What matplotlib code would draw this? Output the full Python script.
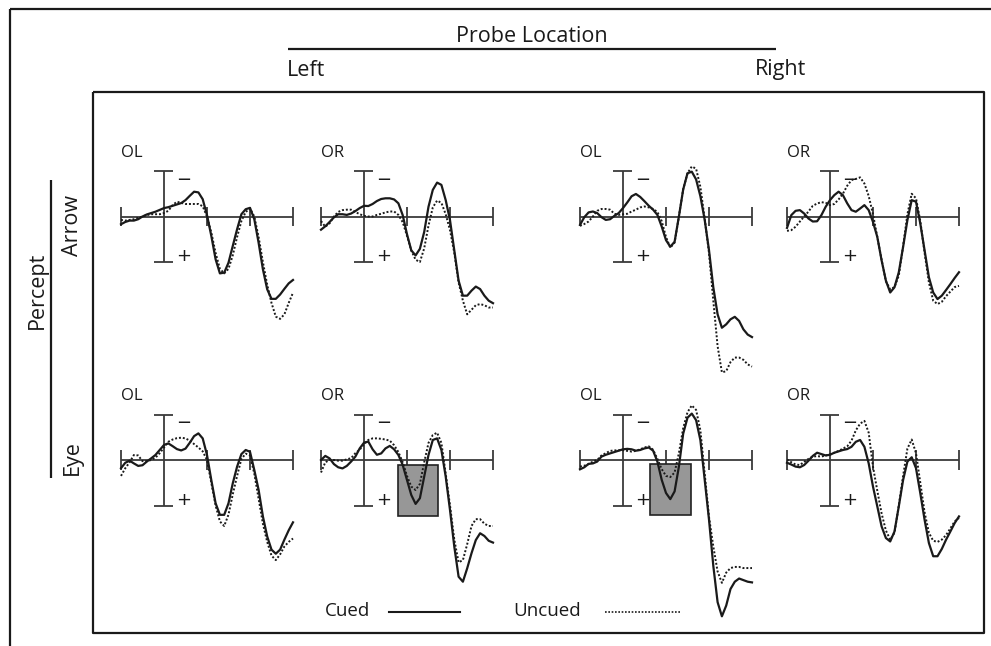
import numpy as np
import matplotlib
matplotlib.use("Agg")
from matplotlib import pyplot as plt
from matplotlib.patches import Rectangle

plt.rcParams['font.family'] = ['Open Sans', 'DejaVu Sans']

# time axis of every waveform, ms after probe onset (curves read every 10 ms)
TIME = np.arange(-100, 301, 10)
TICKS = [-100, 100, 200, 300]

# amplitudes in uV, positive plotted downward (scale bar is +/- 2 uV)
arrow_left_ol_cued = [0.34, 0.24, 0.18, 0.18, 0.12, 0.0, -0.09, -0.15, -0.21, -0.29,
                      -0.37, -0.41, -0.47, -0.53, -0.59, -0.72, -0.91, -1.09, -1.06, -0.76,
                      -0.06, 0.85, 1.88, 2.5, 2.47, 2.03, 1.29, 0.56, -0.1, -0.32,
                      -0.38, 0.12, 1.15, 2.32, 3.2, 3.62, 3.62, 3.43, 3.18, 2.94, 2.79]
arrow_left_ol_uncued = [0.15, 0.18, 0.15, 0.12, 0.06, 0.0, -0.06, -0.1, -0.1, -0.1,
                        -0.15, -0.25, -0.5, -0.65, -0.6, -0.55, -0.55, -0.55, -0.55, -0.45,
                        0.0, 0.7, 1.6, 2.3, 2.5, 2.3, 1.7, 0.9, 0.2, -0.2,
                        -0.35, 0.0, 0.9, 2.0, 3.0, 3.8, 4.4, 4.5, 4.3, 3.8, 3.35]

arrow_left_or_cued = [0.58, 0.43, 0.24, 0.04, -0.1, -0.1, -0.07, -0.13, -0.24, -0.37,
                      -0.47, -0.46, -0.55, -0.68, -0.77, -0.8, -0.8, -0.75, -0.58, -0.06,
                      0.78, 1.49, 1.71, 1.42, 0.68, -0.43, -1.17, -1.49, -1.39, -0.72,
                      0.16, 1.49, 2.82, 3.48, 3.48, 3.26, 3.08, 3.19, 3.48, 3.7, 3.81]
arrow_left_or_uncued = [0.2, 0.45, 0.3, 0.0, -0.2, -0.28, -0.3, -0.3, -0.2, -0.1,
                        -0.03, 0.0, 0.0, -0.07, -0.12, -0.18, -0.22, -0.22, -0.07, 0.25,
                        0.85, 1.5, 1.9, 2.0, 1.4, 0.4, -0.4, -0.7, -0.6, -0.1,
                        0.6, 1.6, 2.9, 3.7, 4.3, 4.1, 3.9, 3.85, 3.9, 4.0, 4.0]

arrow_right_ol_cued = [0.37, 0.03, -0.18, -0.22, -0.15, 0.03, 0.15, 0.12, -0.03, -0.15,
                       -0.37, -0.62, -0.89, -0.99, -0.86, -0.67, -0.47, -0.3, -0.07, 0.44,
                       1.04, 1.33, 1.11, 0.0, -1.19, -1.9, -1.97, -1.63, -0.89, 0.15,
                       1.48, 3.11, 4.3, 4.89, 4.74, 4.52, 4.41, 4.59, 4.96, 5.19, 5.3]
arrow_right_ol_uncued = [0.41, 0.33, 0.22, 0.0, -0.25, -0.33, -0.33, -0.3, -0.12, -0.07,
                         -0.1, -0.12, -0.22, -0.3, -0.4, -0.44, -0.4, -0.33, -0.2, 0.2,
                         0.9, 1.37, 1.15, 0.0, -1.2, -1.9, -2.2, -2.1, -1.3, 0.1,
                         1.6, 3.7, 5.7, 6.85, 6.8, 6.4, 6.2, 6.2, 6.3, 6.5, 6.6]

arrow_right_or_cued = [0.5, -0.06, -0.25, -0.28, -0.13, 0.09, 0.22, 0.21, -0.06, -0.43,
                       -0.72, -0.94, -1.09, -0.94, -0.58, -0.28, -0.21, -0.35, -0.5, -0.28,
                       0.24, 0.9, 1.93, 2.82, 3.34, 3.11, 2.45, 1.34, 0.16, -0.72,
                       -0.65, 0.31, 1.49, 2.67, 3.34, 3.63, 3.48, 3.23, 2.97, 2.7, 2.45]
arrow_right_or_uncued = [0.63, 0.6, 0.45, 0.22, 0.0, -0.22, -0.47, -0.57, -0.63, -0.6,
                         -0.5, -0.55, -0.75, -1.0, -1.35, -1.6, -1.65, -1.72, -1.45, -0.9,
                         -0.1, 0.9, 1.9, 2.85, 3.2, 3.1, 2.6, 1.3, -0.1, -1.0,
                         -0.8, 0.2, 1.6, 2.9, 3.7, 3.85, 3.75, 3.5, 3.3, 3.1, 3.05]

eye_left_ol_cued = [0.36, 0.12, 0.03, 0.15, 0.26, 0.23, 0.07, -0.07, -0.22, -0.44,
                    -0.66, -0.73, -0.61, -0.48, -0.42, -0.5, -0.76, -1.05, -1.17, -0.95,
                    -0.22, 0.88, 1.9, 2.41, 2.41, 1.9, 1.02, 0.29, -0.26, -0.44,
                    -0.36, 0.44, 1.31, 2.48, 3.36, 3.94, 4.12, 3.94, 3.5, 3.09, 2.74]
eye_left_ol_uncued = [0.7, 0.36, 0.1, -0.22, -0.2, 0.05, 0.05, 0.0, -0.1, -0.3,
                      -0.55, -0.8, -0.9, -0.96, -0.98, -0.95, -0.85, -0.7, -0.55, -0.38,
                      0.0, 1.0, 2.0, 2.7, 2.9, 2.4, 1.5, 0.7, -0.05, -0.28,
                      -0.2, 0.6, 1.7, 2.8, 3.6, 4.2, 4.4, 4.15, 3.8, 3.6, 3.45]

eye_left_or_cued = [0.0, -0.18, -0.07, 0.18, 0.32, 0.37, 0.26, 0.07, -0.15, -0.51,
                    -0.76, -0.81, -0.47, -0.23, -0.29, -0.51, -0.62, -0.47, -0.22, 0.22,
                    0.88, 1.54, 1.93, 1.68, 0.73, -0.22, -0.88, -0.95, -0.44, 0.73,
                    2.2, 3.81, 5.13, 5.35, 4.76, 4.1, 3.52, 3.22, 3.34, 3.55, 3.63]
eye_left_or_uncued = [0.55, 0.1, 0.0, 0.0, 0.03, 0.03, -0.03, -0.08, -0.3, -0.45,
                      -0.7, -0.88, -0.95, -0.95, -0.93, -0.9, -0.85, -0.65, -0.35, 0.1,
                      0.7, 1.17, 1.32, 1.05, 0.1, -0.75, -1.1, -1.2, -0.75, 0.6,
                      2.0, 3.5, 4.5, 4.4, 3.7, 2.9, 2.6, 2.6, 2.8, 2.9, 2.9]

eye_right_ol_cued = [0.41, 0.32, 0.17, 0.15, 0.07, -0.15, -0.23, -0.29, -0.35, -0.41,
                     -0.47, -0.49, -0.47, -0.41, -0.44, -0.51, -0.55, -0.41, 0.07, 0.87,
                     1.45, 1.72, 1.38, 0.29, -1.16, -1.86, -2.04, -1.75, -0.87, 0.87,
                     2.62, 4.65, 6.25, 6.87, 6.4, 5.67, 5.35, 5.21, 5.28, 5.35, 5.38]
eye_right_ol_uncued = [0.29, 0.25, 0.18, 0.07, 0.0, -0.2, -0.3, -0.4, -0.42, -0.43,
                       -0.43, -0.4, -0.37, -0.4, -0.47, -0.55, -0.6, -0.45, -0.05, 0.4,
                       0.7, 0.75, 0.55, -0.3, -1.4, -2.1, -2.4, -2.2, -1.3, 0.6,
                       2.5, 3.8, 4.9, 5.4, 4.95, 4.75, 4.7, 4.7, 4.75, 4.75, 4.75]

eye_right_or_cued = [0.12, 0.2, 0.29, 0.32, 0.22, 0.03, -0.18, -0.32, -0.26, -0.2,
                     -0.23, -0.32, -0.38, -0.44, -0.48, -0.58, -0.8, -0.88, -0.58, 0.15,
                     1.17, 2.04, 2.92, 3.43, 3.58, 3.14, 2.04, 0.88, 0.07, -0.12,
                     0.36, 1.46, 2.63, 3.65, 4.23, 4.23, 3.91, 3.5, 3.14, 2.77, 2.48]
eye_right_or_uncued = [-0.02, 0.1, 0.2, 0.22, 0.08, -0.05, -0.15, -0.17, -0.15, -0.2,
                       -0.25, -0.32, -0.4, -0.5, -0.6, -0.85, -1.3, -1.6, -1.72, -1.2,
                       0.3, 1.35, 2.35, 3.1, 3.5, 3.2, 2.0, 0.7, -0.5, -0.9,
                       -0.3, 1.0, 2.3, 3.2, 3.55, 3.6, 3.5, 3.3, 3.0, 2.7, 2.55]

# shaded analysis windows (ms, uV) in the two highlighted panels
window_eye_left_or = (78, 171, 0.22, 2.46)
window_eye_right_ol = (63, 159, 0.18, 2.42)

FIG_W, FIG_H = 991, 646
COL_X0 = [164, 364, 623, 830]      # pixel x of probe onset in each column
ROW_Y0 = [216.5, 460]              # pixel y of the baseline in each row
PX_PER_MS = 0.43
PX_PER_UV = 22.75
XLIM = (-110, 310)
YLIM = (7.4, -2.6)

INK = '#1a1a1a'
AXIS_INK = '#3a3a3a'
HEAD_SIZE = 15.5


def add_panel(fig, row, col):
    x0, y0 = COL_X0[col], ROW_Y0[row]
    left = x0 + XLIM[0] * PX_PER_MS
    top = y0 + YLIM[1] * PX_PER_UV
    w = (XLIM[1] - XLIM[0]) * PX_PER_MS
    h = (YLIM[0] - YLIM[1]) * PX_PER_UV
    ax = fig.add_axes([left / FIG_W, 1 - (top + h) / FIG_H, w / FIG_W, h / FIG_H])
    ax.set_xlim(*XLIM)
    ax.set_ylim(*YLIM)
    ax.axis('off')
    ax.patch.set_alpha(0)
    return ax


def draw_panel(ax, label, cued, uncued, window=None):
    kw = dict(color=AXIS_INK, lw=1.3, clip_on=False, solid_capstyle='butt')
    ax.plot([-100, 300], [0, 0], **kw)
    for t in TICKS:
        ax.plot([t, t], [-0.42, 0.42], **kw)
    ax.plot([0, 0], [-2, 2], **kw)
    ax.plot([-24, 21], [-2, -2], **kw)
    ax.plot([-24, 21], [2, 2], **kw)
    ax.text(46, -1.62, '\u2212', ha='center', va='center', fontsize=13,
            family='DejaVu Sans', color=INK)
    ax.text(46, 1.74, '+', ha='center', va='center', fontsize=13,
            family='DejaVu Sans', color=INK)
    ax.text(-99, -2.8, label, ha='left', va='center', fontsize=12, color=INK)

    if window is not None:
        t0, t1, v0, v1 = window
        ax.add_patch(Rectangle((t0, v0), t1 - t0, v1 - v0, facecolor='#979797',
                               edgecolor='#222222', lw=1.2, zorder=3))

    ax.plot(TIME, uncued, color=INK, lw=1.4, ls=(0, (1, 1)), zorder=4,
            clip_on=False, dash_joinstyle='round')
    ax.plot(TIME, cued, color=INK, lw=1.6, zorder=5, clip_on=False,
            solid_joinstyle='round')


def draw_frame(fig):
    ov = fig.add_axes([0, 0, 1, 1])
    ov.set_xlim(0, FIG_W)
    ov.set_ylim(FIG_H, 0)
    ov.axis('off')

    line = dict(color=INK, lw=1.6, solid_capstyle='butt')
    # outer frame
    ov.plot([10, FIG_W], [9, 9], **line)
    ov.plot([10, 10], [9, FIG_H], **line)
    # inner box
    ov.plot([93, 984, 984, 93, 93], [92, 92, 633, 633, 92], **line)

    # column header
    ov.text(532, 36, 'Probe Location', ha='center', va='center',
            fontsize=HEAD_SIZE, color=INK)
    ov.plot([288, 776], [49, 49], **line)
    ov.text(287, 70, 'Left', ha='left', va='center', fontsize=HEAD_SIZE, color=INK)
    ov.text(806, 70, 'Right', ha='right', va='center', fontsize=HEAD_SIZE, color=INK)

    # row header
    ov.text(37, 290, 'Percept', ha='center', va='center', rotation=90,
            fontsize=HEAD_SIZE, color=INK)
    ov.plot([51, 51], [180, 478], **line)
    ov.text(72, 225, 'Arrow', ha='center', va='center', rotation=90,
            fontsize=HEAD_SIZE, color=INK)
    ov.text(72, 458, 'Eye', ha='center', va='center', rotation=90,
            fontsize=HEAD_SIZE, color=INK)

    # key
    ov.text(325, 611, 'Cued', ha='left', va='center', fontsize=13.5, color=INK)
    ov.plot([389, 460], [612, 612], color=INK, lw=1.5)
    ov.text(513, 611, 'Uncued', ha='left', va='center', fontsize=13.5, color=INK)
    ov.plot([605, 680], [612, 612], color=INK, lw=1.2, ls=(0, (1, 1)))


def make_figure():
    fig = plt.figure(figsize=(FIG_W / 100, FIG_H / 100), dpi=100)
    draw_frame(fig)

    panels = [
        (0, 0, 'OL', arrow_left_ol_cued, arrow_left_ol_uncued, None),
        (0, 1, 'OR', arrow_left_or_cued, arrow_left_or_uncued, None),
        (0, 2, 'OL', arrow_right_ol_cued, arrow_right_ol_uncued, None),
        (0, 3, 'OR', arrow_right_or_cued, arrow_right_or_uncued, None),
        (1, 0, 'OL', eye_left_ol_cued, eye_left_ol_uncued, None),
        (1, 1, 'OR', eye_left_or_cued, eye_left_or_uncued, window_eye_left_or),
        (1, 2, 'OL', eye_right_ol_cued, eye_right_ol_uncued, window_eye_right_ol),
        (1, 3, 'OR', eye_right_or_cued, eye_right_or_uncued, None),
    ]
    for row, col, label, cued, uncued, window in panels:
        ax = add_panel(fig, row, col)
        draw_panel(ax, label, cued, uncued, window)

    fig.savefig('out.png', dpi=100)


if __name__ == "__main__":
    make_figure()
